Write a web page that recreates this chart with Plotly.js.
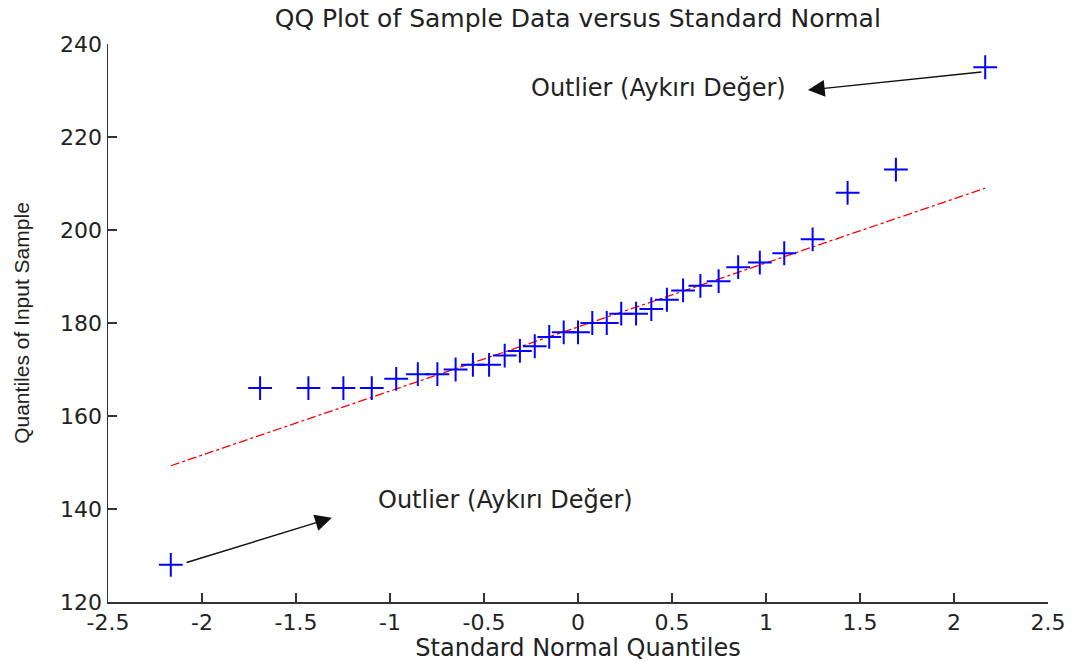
<!DOCTYPE html>
<html><head><meta charset="utf-8">
<script src="https://cdn.plot.ly/plotly-3.0.1.min.js"></script>
<style>html,body{margin:0;padding:0;background:#fff}#plot{width:1075px;height:662px}</style>
</head><body><div id="plot"></div>
<script>
const theoreticalQuantiles = [-2.166,-1.691,-1.434,-1.248,-1.097,-0.967,-0.852,-0.748,-0.651,-0.559,-0.473,-0.390,-0.309,-0.230,-0.153,-0.076,0,0.076,0.153,0.230,0.309,0.390,0.473,0.559,0.651,0.748,0.852,0.967,1.097,1.248,1.434,1.691,2.166];
const sampleQuantiles = [128,166,166,166,166,168,169,169,170,171,171,173,174,175,177,178,178,180,180,182,182,183,185,187,188,189,192,193,195,198,208,213,235];
const refLineX = [-2.166, 2.166];
const refLineY = [149.3, 209.0];
const xTicks = [-2.5,-2,-1.5,-1,-0.5,0,0.5,1,1.5,2,2.5];
const yTicks = [120,140,160,180,200,220,240];
const outlierLabel = "Outlier (Aykırı Değer)";

const wide = "DejaVu Sans, Verdana, sans-serif";
const font = {family: wide, size: 24, color: "#222"};
const tickFont = {family: wide, size: 22, color: "#222"};

const data = [
  {x: refLineX, y: refLineY, mode: "lines", line: {color: "red", width: 1.3, dash: "dashdot"}, hoverinfo: "skip"},
  {x: theoreticalQuantiles, y: sampleQuantiles, mode: "markers",
   marker: {symbol: "cross-thin-open", size: 17, color: "blue", line: {color: "blue", width: 2}}}
];

const layout = {
  width: 1075, height: 662,
  margin: {l: 108, r: 27, t: 44, b: 60},
  paper_bgcolor: "#fff", plot_bgcolor: "#fff",
  showlegend: false,
  font: font,
  title: {text: "QQ Plot of Sample Data versus Standard Normal", font: {family: wide, size: 25, color: "#222"}, x: 0.5375, xanchor: "center", y: 0.973, yanchor: "middle"},
  xaxis: {range: [-2.5, 2.5], tickvals: xTicks, ticktext: xTicks.map(String), showgrid: false, zeroline: false,
    showline: true, linecolor: "#333", linewidth: 1.5, ticks: "inside", ticklen: 9, tickwidth: 1.5, tickcolor: "#333",
    tickfont: tickFont, title: {text: "Standard Normal Quantiles", font: font, standoff: 0}},
  yaxis: {range: [120, 240], tickvals: yTicks, showgrid: false, zeroline: false,
    showline: true, linecolor: "#333", linewidth: 1.5, ticks: "inside", ticklen: 9, tickwidth: 1.5, tickcolor: "#333",
    tickfont: tickFont, title: {text: "Quantiles of Input Sample", font: {family: "Liberation Sans, Arial, sans-serif", size: 21, color: "#222"}, standoff: 24}},
  annotations: [
    {x: 0.426, y: 230.5, xref: "x", yref: "y", text: outlierLabel, showarrow: false, font: font},
    {x: -0.388, y: 141.9, xref: "x", yref: "y", text: outlierLabel, showarrow: false, font: font},
    {x: 1.223, y: 230.1, ax: 2.154, ay: 234.0, xref: "x", yref: "y", axref: "x", ayref: "y", text: "", showarrow: true, arrowhead: 2, arrowsize: 2.4, arrowwidth: 1.4, arrowcolor: "#111"},
    {x: -1.309, y: 138.1, ax: -2.09, ay: 128.4, xref: "x", yref: "y", axref: "x", ayref: "y", text: "", showarrow: true, arrowhead: 2, arrowsize: 2.4, arrowwidth: 1.4, arrowcolor: "#111"}
  ]
};

Plotly.newPlot("plot", data, layout, {displayModeBar: false, staticPlot: true});
</script></body></html>
